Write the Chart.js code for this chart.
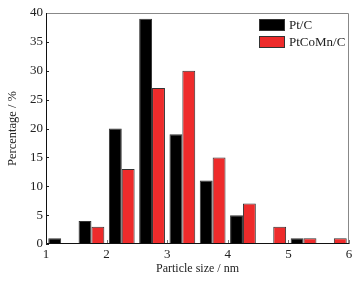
<!DOCTYPE html>
<html>
<head>
<meta charset="utf-8">
<script src="https://cdn.jsdelivr.net/npm/chart.js@4/dist/chart.umd.min.js"></script>
<style>
  html, body { margin: 0; padding: 0; background: #fff; }
  #wrap { width: 360px; height: 285px; }
</style>
</head>
<body>
<div id="wrap"><canvas id="chart"></canvas></div>
<script>
// bin centres (nm) and percentages
const binCentres = [1.25, 1.75, 2.25, 2.75, 3.25, 3.75, 4.25, 4.75, 5.25, 5.75];
const ptC = [1, 4, 20, 39, 19, 11, 5, 0, 1, 0];
const ptCoMnC = [0, 3, 13, 27, 30, 15, 7, 3, 1, 1];
const seriesNames = ['Pt/C', 'PtCoMn/C'];
const xTicks = [1, 2, 3, 4, 5, 6];
const yTicks = [0, 5, 10, 15, 20, 25, 30, 35, 40];

const serif = '"Liberation Serif", "DejaVu Serif", serif';

function toPoints(values) {
  return binCentres.map((c, i) => ({ x: c, y: values[i] }));
}

// short inward ticks and the frame
const frameTicks = {
  id: 'frameTicks',
  afterDatasetsDraw(chart) {
    const { ctx, chartArea: a, scales } = chart;
    ctx.save();
    ctx.lineWidth = 1;
    ctx.strokeStyle = '#777';
    ctx.beginPath();
    xTicks.forEach(v => {
      const px = Math.round(scales.x.getPixelForValue(v)) + 0.5;
      ctx.moveTo(px, a.bottom);
      ctx.lineTo(px, a.bottom - 4);
    });
    ctx.stroke();
    ctx.strokeStyle = '#222';
    ctx.beginPath();
    yTicks.forEach(v => {
      const py = Math.round(scales.y.getPixelForValue(v)) + 0.5;
      ctx.moveTo(a.left, py);
      ctx.lineTo(a.left + 3, py);
    });
    ctx.stroke();
    // frame: left and bottom dark, top and right grey
    ctx.strokeStyle = '#888';
    ctx.beginPath();
    ctx.moveTo(a.left, a.top + 0.5);
    ctx.lineTo(a.right - 0.5, a.top + 0.5);
    ctx.lineTo(a.right - 0.5, a.bottom);
    ctx.stroke();
    ctx.strokeStyle = '#111';
    ctx.beginPath();
    ctx.moveTo(a.left + 0.5, a.top);
    ctx.lineTo(a.left + 0.5, a.bottom - 0.5);
    ctx.lineTo(a.right, a.bottom - 0.5);
    ctx.stroke();
    ctx.restore();
  }
};

// legend drawn inside the plot, top right
const innerLegend = {
  id: 'innerLegend',
  afterDraw(chart) {
    const { ctx, chartArea: a } = chart;
    ctx.save();
    ctx.font = '13px ' + serif;
    ctx.textBaseline = 'middle';
    chart.data.datasets.forEach((ds, i) => {
      const bx = a.right - 90;
      const by = a.top + 6 + i * 17;
      ctx.fillStyle = ds.backgroundColor;
      ctx.fillRect(bx, by, 26, 12);
      ctx.strokeStyle = '#333';
      ctx.lineWidth = 1;
      ctx.strokeRect(bx + 0.5, by + 0.5, 25, 11);
      ctx.fillStyle = '#222';
      ctx.fillText(ds.label, bx + 30, by + 6.5);
    });
    ctx.restore();
  }
};

new Chart(document.getElementById('chart'), {
  type: 'bar',
  data: {
    datasets: [
      {
        label: seriesNames[0],
        data: toPoints(ptC),
        backgroundColor: '#000000',
        borderColor: '#333333',
        borderWidth: 1
      },
      {
        label: seriesNames[1],
        data: toPoints(ptCoMnC),
        backgroundColor: '#ee2b2b',
        borderColor: '#333333',
        borderWidth: 1
      }
    ]
  },
  options: {
    responsive: true,
    maintainAspectRatio: false,
    animation: false,
    categoryPercentage: 0.85,
    barPercentage: 1.0,
    layout: { padding: { left: 0, right: 11, top: 13, bottom: 9 } },
    plugins: {
      legend: { display: false },
      tooltip: { enabled: false }
    },
    scales: {
      x: {
        type: 'linear',
        min: 1,
        max: 6,
        offset: false,
        grid: { display: false, drawTicks: false },
        border: { display: false },
        afterBuildTicks(scale) {
          scale.ticks = xTicks.map(v => ({ value: v }));
        },
        afterFit(scale) {
          scale.height = 32;
        },
        ticks: {
          color: '#222',
          font: { family: serif, size: 13 },
          padding: 3,
          maxRotation: 0,
          callback: v => String(v)
        },
        title: {
          display: true,
          text: 'Particle size / nm',
          color: '#222',
          font: { family: serif, size: 12 },
          padding: { top: 2, bottom: 0 }
        }
      },
      y: {
        min: 0,
        max: 40,
        grid: { display: false, drawTicks: false },
        border: { display: false },
        afterBuildTicks(scale) {
          scale.ticks = yTicks.map(v => ({ value: v }));
        },
        afterFit(scale) {
          scale.width = 46;
        },
        ticks: {
          color: '#222',
          font: { family: serif, size: 13 },
          padding: 3
        },
        title: {
          display: true,
          text: 'Percentage / %',
          color: '#222',
          font: { family: serif, size: 12.5 },
          padding: { top: 5, bottom: 0 }
        }
      }
    }
  },
  plugins: [frameTicks, innerLegend]
});
</script>
</body>
</html>
